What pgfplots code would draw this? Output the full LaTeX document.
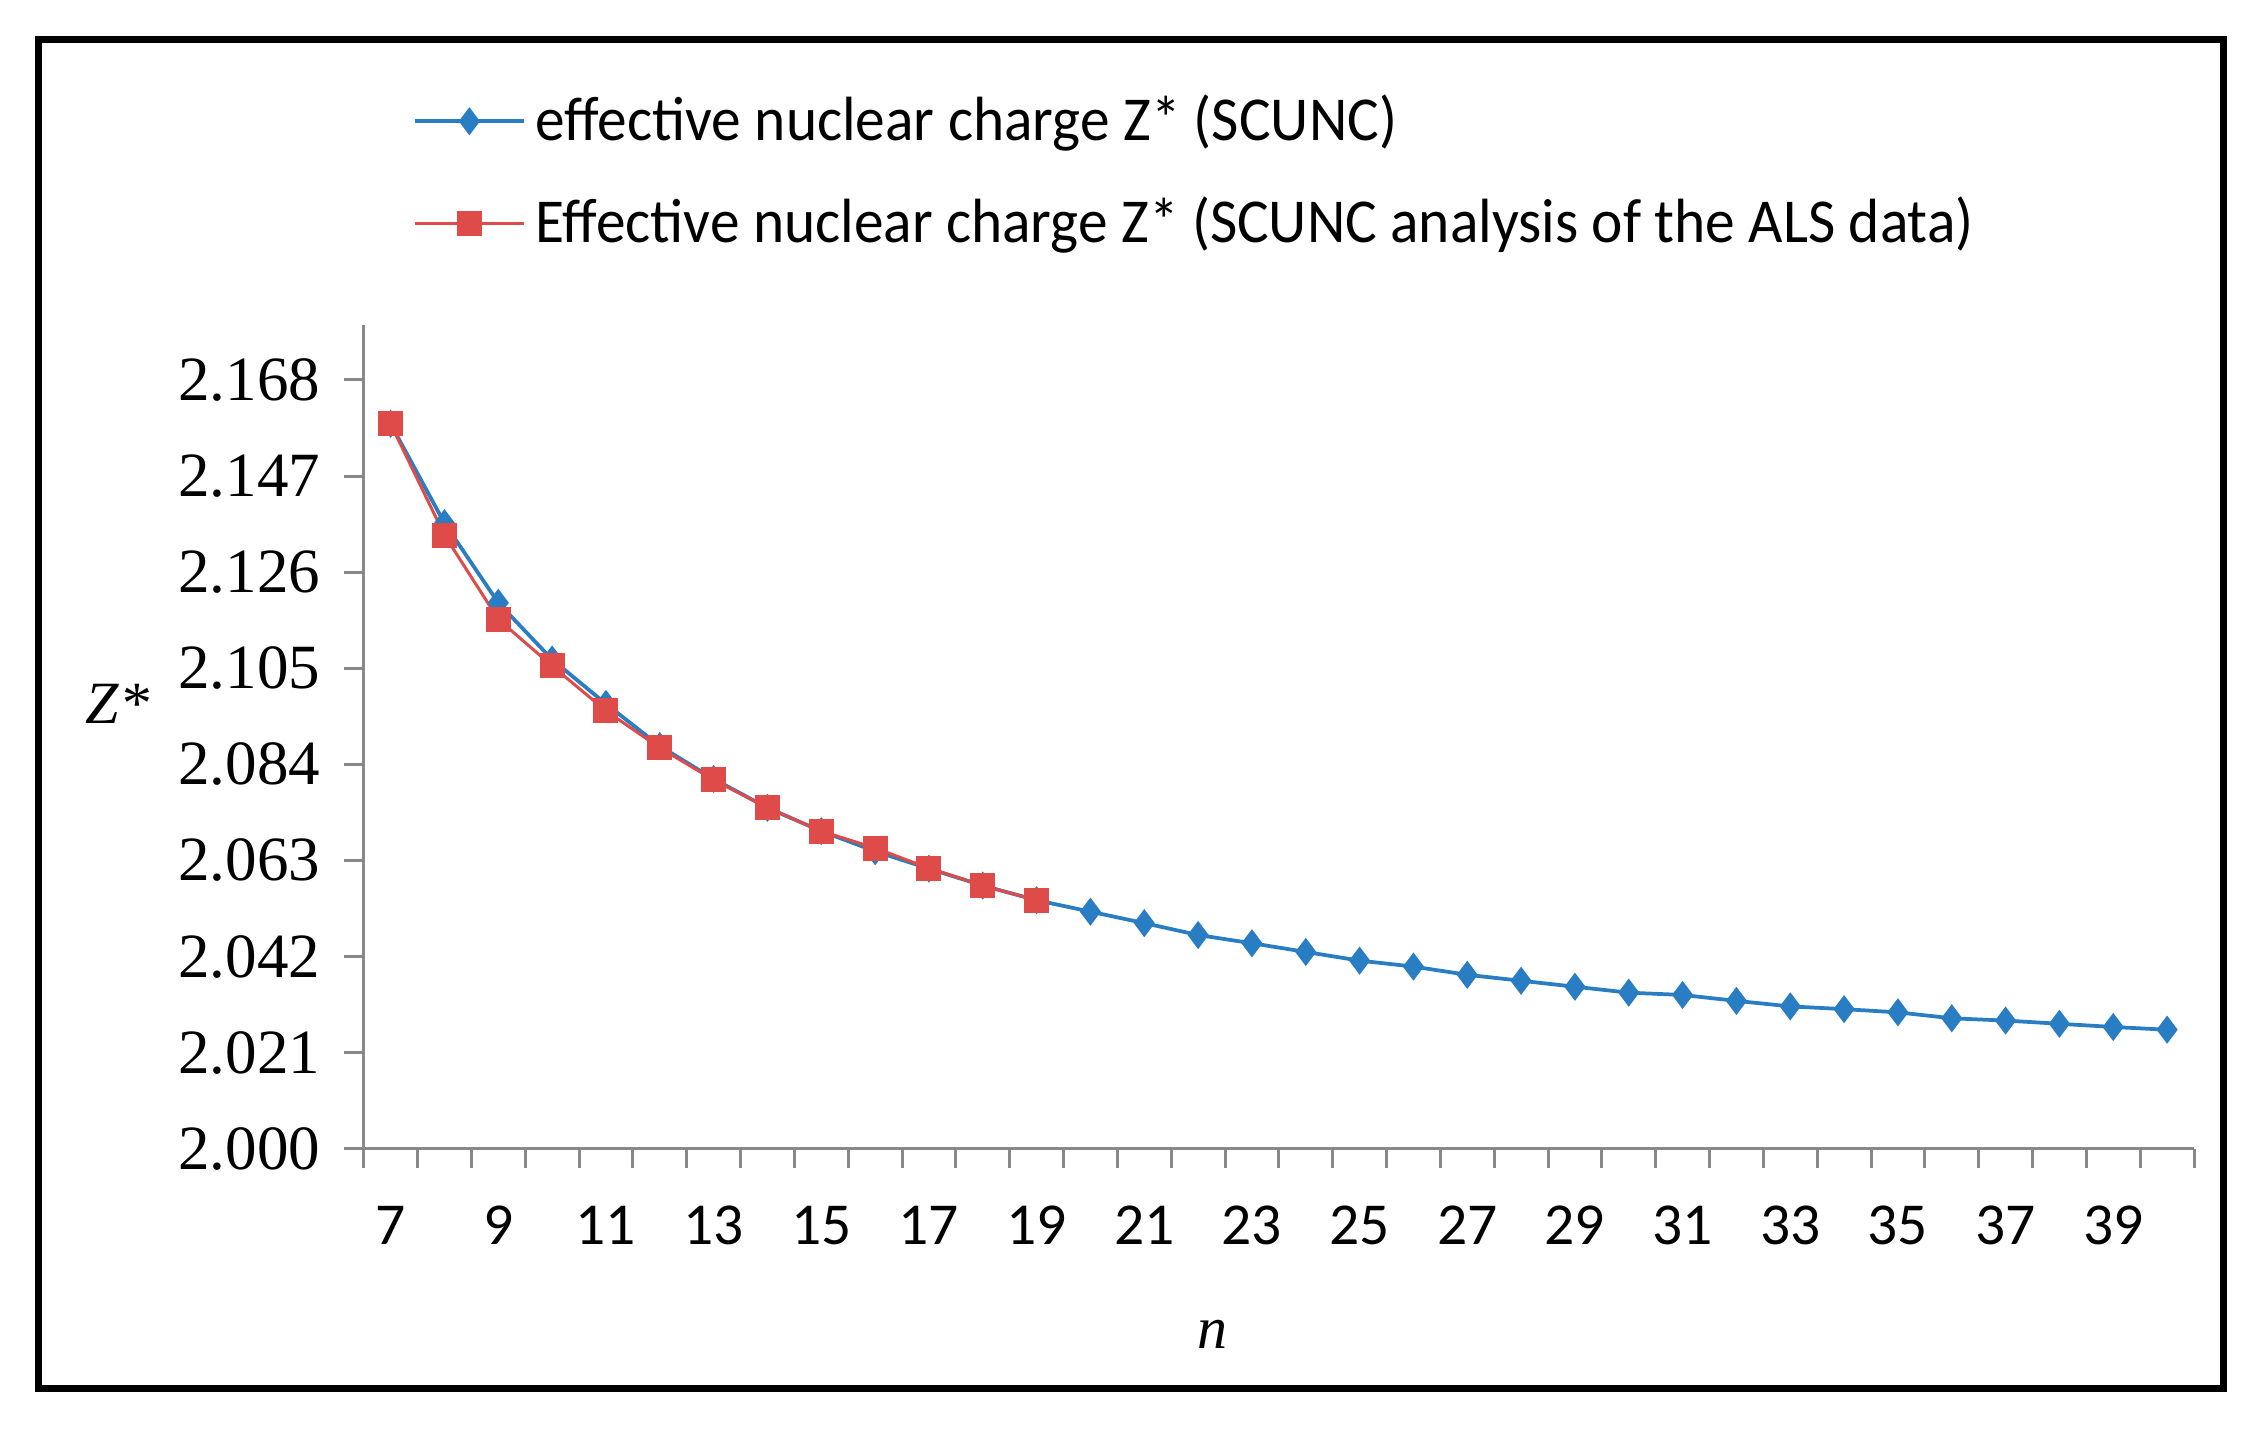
\documentclass[border=0pt]{standalone}
\usepackage{fontspec}
\setmainfont{Carlito}
\newfontfamily\tnr{Liberation Serif}
\newfontfamily\legfont{Carlito}[FakeStretch=0.95]
\usepackage{pgfplots}
\pgfplotsset{compat=1.18}
\definecolor{zblue}{RGB}{40,125,195}
\definecolor{zred}{RGB}{222,75,73}
\definecolor{axgray}{RGB}{137,137,137}

\begin{document}
\begin{tikzpicture}
\path[use as bounding box] (0,0) rectangle (452.8pt,-286.4pt);
\draw[line width=1.4pt] (7.7pt,-7.9pt) rectangle (444.6pt,-277.6pt);
\begin{axis}[
    at={(72.74pt,-229.74pt)}, anchor=south west,
    scale only axis, width=366.06pt, height=164.74pt,
    xmin=6.5, xmax=40.5, ymin=2.0, ymax=2.18,
    axis x line*=bottom, axis y line*=left,
    axis line style={axgray, line width=0.6pt},
    tick align=outside,
    tick style={axgray, line width=0.6pt},
    major tick length=3.9pt,
    xtick={6.5,7.5,...,40.5},
    xticklabels={},
    extra x ticks={7,9,...,39},
    extra x tick labels={7,9,11,13,15,17,19,21,23,25,27,29,31,33,35,37,39},
    extra x tick style={major tick length=0pt, tick style={draw=none}},
    ytick={2.000,2.021,2.042,2.063,2.084,2.105,2.126,2.147,2.168},
    yticklabels={2.000,2.021,2.042,2.063,2.084,2.105,2.126,2.147,2.168},
    xticklabel style={font=\fontsize{11.9}{14}\selectfont, yshift=-8pt},
    yticklabel style={font=\tnr\fontsize{12.6}{14}\selectfont, xshift=-1.3pt},
    xlabel={\tnr\itshape n}, ylabel={\tnr\itshape Z*},
    label style={font=\fontsize{12}{14}\selectfont},
    xlabel style={at={(rel axis cs:0.4635,-0.225)}, anchor=center},
    ylabel style={at={(rel axis cs:-0.1345,0.54)}, anchor=center, rotate=-90},
    clip=false,
    legend cell align=left,
    legend image code/.code={\draw[mark repeat=2,mark phase=2,#1] plot coordinates {(0pt,0pt)(10.9pt,0pt)(21.8pt,0pt)};},
    legend style={at={(rel axis cs:0.0264,1.293)}, anchor=north west, draw=none, fill=none,
        inner sep=0pt, row sep=5.8pt, font=\legfont\fontsize{12.5}{15}\selectfont},
]

\addplot[zblue, line width=0.75pt, mark=diamond*, mark size=2.2pt]
    coordinates {
    (7,2.1584)(8,2.1367)(9,2.1193)(10,2.1069)(11,2.0972)(12,2.0880)(13,2.0808)
    (14,2.0745)(15,2.0694)(16,2.0650)(17,2.0612)(18,2.0575)(19,2.0543)(20,2.0518)
    (21,2.0493)(22,2.0467)(23,2.0449)(24,2.0430)(25,2.0411)(26,2.0398)(27,2.0380)
    (28,2.0367)(29,2.0354)(30,2.0341)(31,2.0336)(32,2.0323)(33,2.0311)(34,2.0305)
    (35,2.0298)(36,2.0285)(37,2.0280)(38,2.0273)(39,2.0266)(40,2.0260)
    };
    \addlegendentry{effective nuclear charge Z* (SCUNC)}

\addplot[zred, line width=0.6pt, mark=square*, mark size=2.2pt]
    coordinates {
    (7,2.1584)(8,2.1341)(9,2.1157)(10,2.1055)(11,2.0957)(12,2.0876)(13,2.0806)
    (14,2.0745)(15,2.0694)(16,2.0657)(17,2.0613)(18,2.0575)(19,2.0543)
    };
    \addlegendentry{Effective nuclear charge Z* (SCUNC analysis of the ALS data)}

\end{axis}
\end{tikzpicture}
\end{document}
